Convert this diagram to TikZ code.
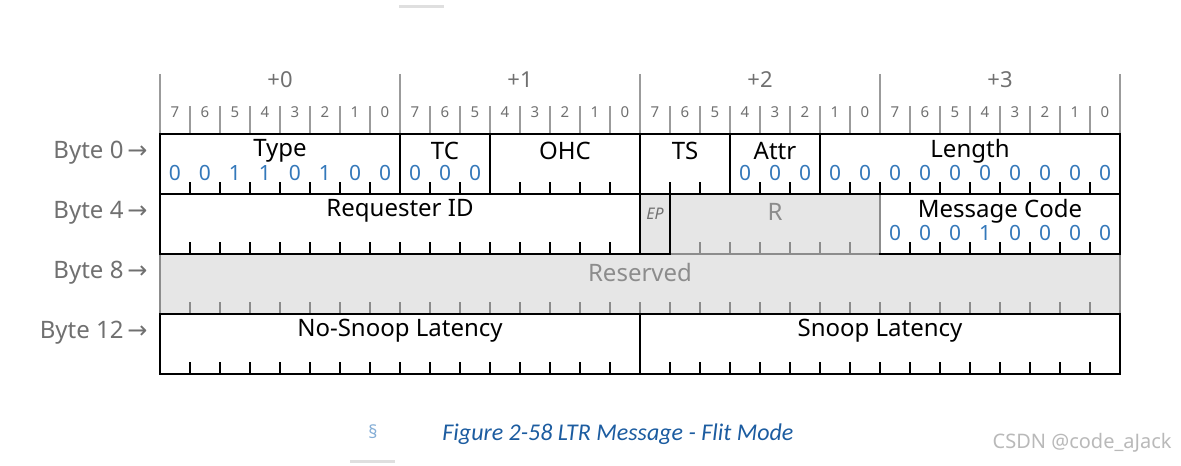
\documentclass[tikz,border=0pt]{standalone}
\usepackage{fontspec}
\setmainfont{Noto Sans}
\newfontfamily\capfont{Carlito}
\newfontfamily\arrowfont{DejaVu Sans}
\definecolor{lblgray}{RGB}{112,112,112}
\definecolor{resgray}{RGB}{230,230,230}
\definecolor{resline}{RGB}{140,140,140}
\definecolor{bitblue}{RGB}{52,120,186}
\definecolor{capblue}{RGB}{28,92,160}
\tikzset{
	field/.style={draw=black, line width=1.3pt},
	tick/.style={draw=black, line width=0.85pt},
	restick/.style={draw=resline, line width=0.85pt},
	hdrtick/.style={draw=lblgray!70, line width=0.7pt},
	fname/.style={font=\fontsize{12}{14}\selectfont, inner sep=0pt},
	bitval/.style={font=\fontsize{10.5}{12}\selectfont, text=bitblue, inner sep=0pt},
	bitnum/.style={font=\fontsize{7.5}{9}\selectfont, text=lblgray, inner sep=0pt},
	bytehdr/.style={font=\fontsize{11}{13}\selectfont, text=lblgray, inner sep=0pt},
	rowlbl/.style={font=\fontsize{12}{14}\selectfont, text=lblgray, inner sep=0pt, anchor=east}
}
\begin{document}
\begin{tikzpicture}[x=0.5pt, y=-0.5pt]
	\useasboundingbox (0,0) rectangle (1181,465);
	
	% header: byte offsets and bit numbers
	\foreach \j in {0,...,3}
		\node[bytehdr] (p\j) at (280+240*\j,80) {+\j};
	\foreach \k in {1,...,31}
		\draw[hdrtick] (160+30*\k,106) -- (160+30*\k,134);
	\foreach \k in {0,8,16,24,32}
		\draw[hdrtick] (160+30*\k,74) -- (160+30*\k,134);
	\foreach \k in {0,...,31}{
		\pgfmathtruncatemacro{\d}{7-mod(\k,8)}
		\node[bitnum] (h\k) at (175+30*\k,112) {\d};
	}
	
	% row labels
	\foreach \row/\n in {0/0,1/4,2/8,3/12}
		\node[rowlbl] (byte\row) at (148,153+60*\row) {Byte \n\,{\arrowfont →}};
	
	% reserved areas
	\fill[resgray] (670,194) rectangle (880,254);
	\fill[resgray] (160,254) rectangle (1120,314);
	\foreach \k in {18,...,23}
		\draw[restick] (160+30*\k,254) -- ++(0,-12);
	\foreach \k in {1,...,31}
		\draw[restick] (160+30*\k,314) -- ++(0,-12);
	\draw[resline, line width=1.3pt] (670,194) rectangle (880,254);
	\draw[resline, line width=1.3pt] (160,254) rectangle (1120,314);
	\node[fname, text=resline] (r) at (775,212) {R};
	\node[fname, text=resline] (res) at (640,272) {Reserved};
	
	% fields
	\foreach \row/\sb/\eb/\id/\txt in {0/0/8/type/Type, 0/8/11/tc/TC, 0/11/16/ohc/OHC,
			0/16/19/ts/TS, 0/19/22/attr/Attr, 0/22/32/len/Length,
			1/0/16/rid/Requester ID, 1/24/32/msg/Message Code,
			3/0/16/nsl/No-Snoop Latency, 3/16/32/sl/Snoop Latency}{
		\draw[field] (160+30*\sb,134+60*\row) rectangle (160+30*\eb,194+60*\row);
		\node[fname] (\id) at (160+15*\sb+15*\eb,151+60*\row) {\txt};
		\pgfmathtruncatemacro{\lo}{\sb+1}
		\pgfmathtruncatemacro{\hi}{\eb-1}
		\foreach \k in {\lo,...,\hi}
			\draw[tick] (160+30*\k,194+60*\row) -- ++(0,-12);
	}
	\draw[field, fill=resgray] (640,194) rectangle (670,254);
	\draw[resline, line width=1.3pt] (880,195) -- (880,253);
	\node[font=\itshape\fontsize{8}{10}\selectfont, text=lblgray, inner sep=0pt] (ep) at (655,214) {EP};
	
	% fixed values
	\foreach \k/\v in {0/0,1/0,2/1,3/1,4/0,5/1,6/0,7/0,8/0,9/0,10/0,19/0,20/0,21/0,
			22/0,23/0,24/0,25/0,26/0,27/0,28/0,29/0,30/0,31/0}
		\node[bitval] (v\k) at (175+30*\k,173) {\v};
	\foreach \k/\v in {24/0,25/0,26/0,27/1,28/0,29/0,30/0,31/0}
		\node[bitval] (m\k) at (175+30*\k,233) {\v};
	
	% caption
	\draw[gray!25, line width=1.5pt] (399,7) -- (444,7);
	\draw[gray!25, line width=1.5pt] (350,461) -- (395,461);
	\node[text=bitblue!60, font=\fontsize{9}{11}\selectfont] (sect) at (373,432) {\S};
	\node[anchor=west, inner sep=0pt, text=capblue, font=\capfont\itshape\fontsize{12}{14}\selectfont] (cap) at (442,434) {Figure 2-58 LTR Message - Flit Mode};
	\node[anchor=east, inner sep=0pt, text=gray!55, font=\fontsize{10}{12}\selectfont] (wm) at (1172,443) {CSDN @code\_aJack};
\end{tikzpicture}
\end{document}
